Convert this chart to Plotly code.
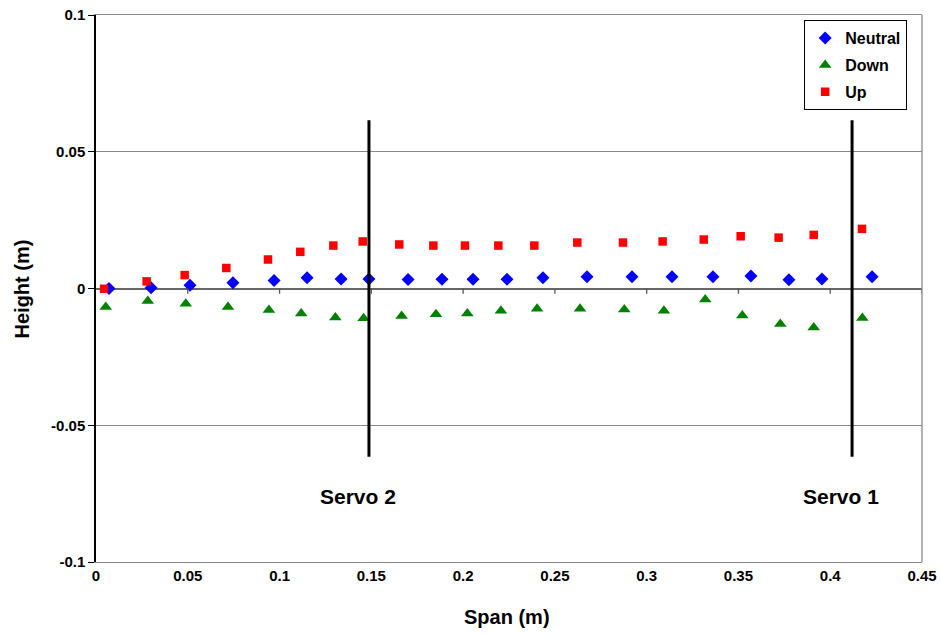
import plotly.graph_objects as go

# ---- data ----
neutral_x = [0.0071, 0.0300, 0.0512, 0.0746, 0.0970, 0.1150, 0.1335, 0.1487, 0.1700, 0.1885,
             0.2054, 0.2239, 0.2435, 0.2675, 0.2920, 0.3138, 0.3361, 0.3568, 0.3775, 0.3955, 0.4228]
neutral_y = [0.0000, 0.0003, 0.0012, 0.0021, 0.0029, 0.0039, 0.0035, 0.0035, 0.0033, 0.0034,
             0.0034, 0.0034, 0.0039, 0.0043, 0.0043, 0.0043, 0.0043, 0.0046, 0.0032, 0.0035, 0.0043]

down_x = [0.0053, 0.0282, 0.0489, 0.0719, 0.0942, 0.1118, 0.1304, 0.1458, 0.1665, 0.1852,
          0.2023, 0.2206, 0.2403, 0.2637, 0.2878, 0.3094, 0.3319, 0.3521, 0.3728, 0.3910, 0.4175]
down_y = [-0.0068, -0.0046, -0.0056, -0.0068, -0.0079, -0.0091, -0.0106, -0.0109, -0.0101, -0.0094,
          -0.0091, -0.0081, -0.0074, -0.0074, -0.0077, -0.0081, -0.0040, -0.0099, -0.0130, -0.0143, -0.0108]

up_x = [0.0044, 0.0276, 0.0483, 0.0710, 0.0937, 0.1113, 0.1293, 0.1453, 0.1652, 0.1838,
        0.2010, 0.2192, 0.2388, 0.2622, 0.2871, 0.3087, 0.3311, 0.3512, 0.3719, 0.3910, 0.4173]
up_y = [-0.0001, 0.0026, 0.0049, 0.0075, 0.0106, 0.0134, 0.0157, 0.0172, 0.0161, 0.0157,
        0.0157, 0.0157, 0.0157, 0.0168, 0.0168, 0.0172, 0.0179, 0.0191, 0.0186, 0.0196, 0.0218]

x_ticks = [0, 0.05, 0.1, 0.15, 0.2, 0.25, 0.3, 0.35, 0.4, 0.45]
x_ticklabels = ["0", "0.05", "0.1", "0.15", "0.2", "0.25", "0.3", "0.35", "0.4", "0.45"]
y_ticks = [-0.1, -0.05, 0, 0.05, 0.1]
y_ticklabels = ["-0.1", "-0.05", "0", "0.05", "0.1"]

servo_x = [0.1487, 0.4119]
servo_extent = [-0.0615, 0.0615]
servo_label_x = [0.1425, 0.4061]
servo_label_y = [-0.0761, -0.0761]
servo_labels = ["Servo 2", "Servo 1"]

FONT = "Liberation Sans, Arial, sans-serif"

fig = go.Figure()
fig.add_trace(go.Scatter(x=neutral_x, y=neutral_y, mode="markers", name="<b>Neutral</b>",
                         legendgroup="n",
                         marker=dict(symbol="diamond", size=10, color="#0000ff")))
fig.add_trace(go.Scatter(x=down_x, y=down_y, mode="markers", name="<b>Down</b>",
                         legendgroup="d",
                         marker=dict(symbol="triangle-up", size=11, color="#008000")))
fig.add_trace(go.Scatter(x=up_x, y=up_y, mode="markers", name="<b>Up</b>",
                         legendgroup="u",
                         marker=dict(symbol="square", size=8.5, color="#ff0000")))

shapes = []
# servo lines
for sx in servo_x:
    shapes.append(dict(type="line", xref="x", yref="y", x0=sx, x1=sx,
                       y0=servo_extent[0], y1=servo_extent[1],
                       line=dict(color="black", width=3)))
# x tick marks on the zero line
for tx in x_ticks[1:]:
    shapes.append(dict(type="line", xref="x", yref="y", x0=tx, x1=tx,
                       y0=0, y1=-0.0019, line=dict(color="#555555", width=1.3)))
# right border
shapes.append(dict(type="line", xref="paper", yref="paper", x0=1, x1=1, y0=0, y1=1,
                   line=dict(color="#888888", width=1.3)))

annotations = []
for lx, ly, lt in zip(servo_label_x, servo_label_y, servo_labels):
    annotations.append(dict(x=lx, y=ly, xref="x", yref="y", text=f"<b>{lt}</b>",
                            showarrow=False, font=dict(family=FONT, size=21, color="black"),
                            xanchor="center", yanchor="middle"))
annotations.append(dict(x=0.4976, y=-0.1005, xref="paper", yref="paper", text="<b>Span (m)</b>",
                        showarrow=False, font=dict(family=FONT, size=20, color="black"),
                        xanchor="center", yanchor="middle"))
annotations.append(dict(x=-0.0896, y=0.5, xref="paper", yref="paper", text="<b>Height (m)</b>",
                        showarrow=False, textangle=-90, font=dict(family=FONT, size=20, color="black"),
                        xanchor="center", yanchor="middle"))

fig.update_layout(
    template="none",
    width=941, height=637, autosize=False,
    margin=dict(l=96, r=19, t=15, b=75, pad=0, autoexpand=False),
    paper_bgcolor="white", plot_bgcolor="white",
    font=dict(family=FONT, color="black"),
    showlegend=True,
    legend=dict(x=0.857, y=0.991, xanchor="left", yanchor="top",
                bordercolor="black", borderwidth=1.3, bgcolor="white",
                font=dict(family=FONT, size=16, color="black"),
                itemwidth=30, tracegroupgap=3),
    shapes=shapes,
    annotations=annotations,
    xaxis=dict(range=[0, 0.45], tickvals=x_ticks, ticktext=[f"<b>{t}</b>" for t in x_ticklabels],
               automargin=False,
               showgrid=False, zeroline=False, showline=True, linecolor="#888888", linewidth=1.3,
               mirror=True, ticks="", tickfont=dict(family=FONT, size=15, color="black")),
    yaxis=dict(range=[-0.1, 0.1], tickvals=y_ticks, ticktext=[f"<b>{t}</b>" for t in y_ticklabels],
               automargin=False,
               showgrid=True, gridcolor="#888888", gridwidth=1.3,
               zeroline=True, zerolinecolor="#666666", zerolinewidth=1.5,
               showline=True, linecolor="black", linewidth=1.5,
               ticks="outside", ticklen=6, tickcolor="black",
               tickfont=dict(family=FONT, size=15, color="black")),
)

fig.write_html("out.html", config={"displayModeBar": False},
               post_script="document.body.style.margin='0px';")
